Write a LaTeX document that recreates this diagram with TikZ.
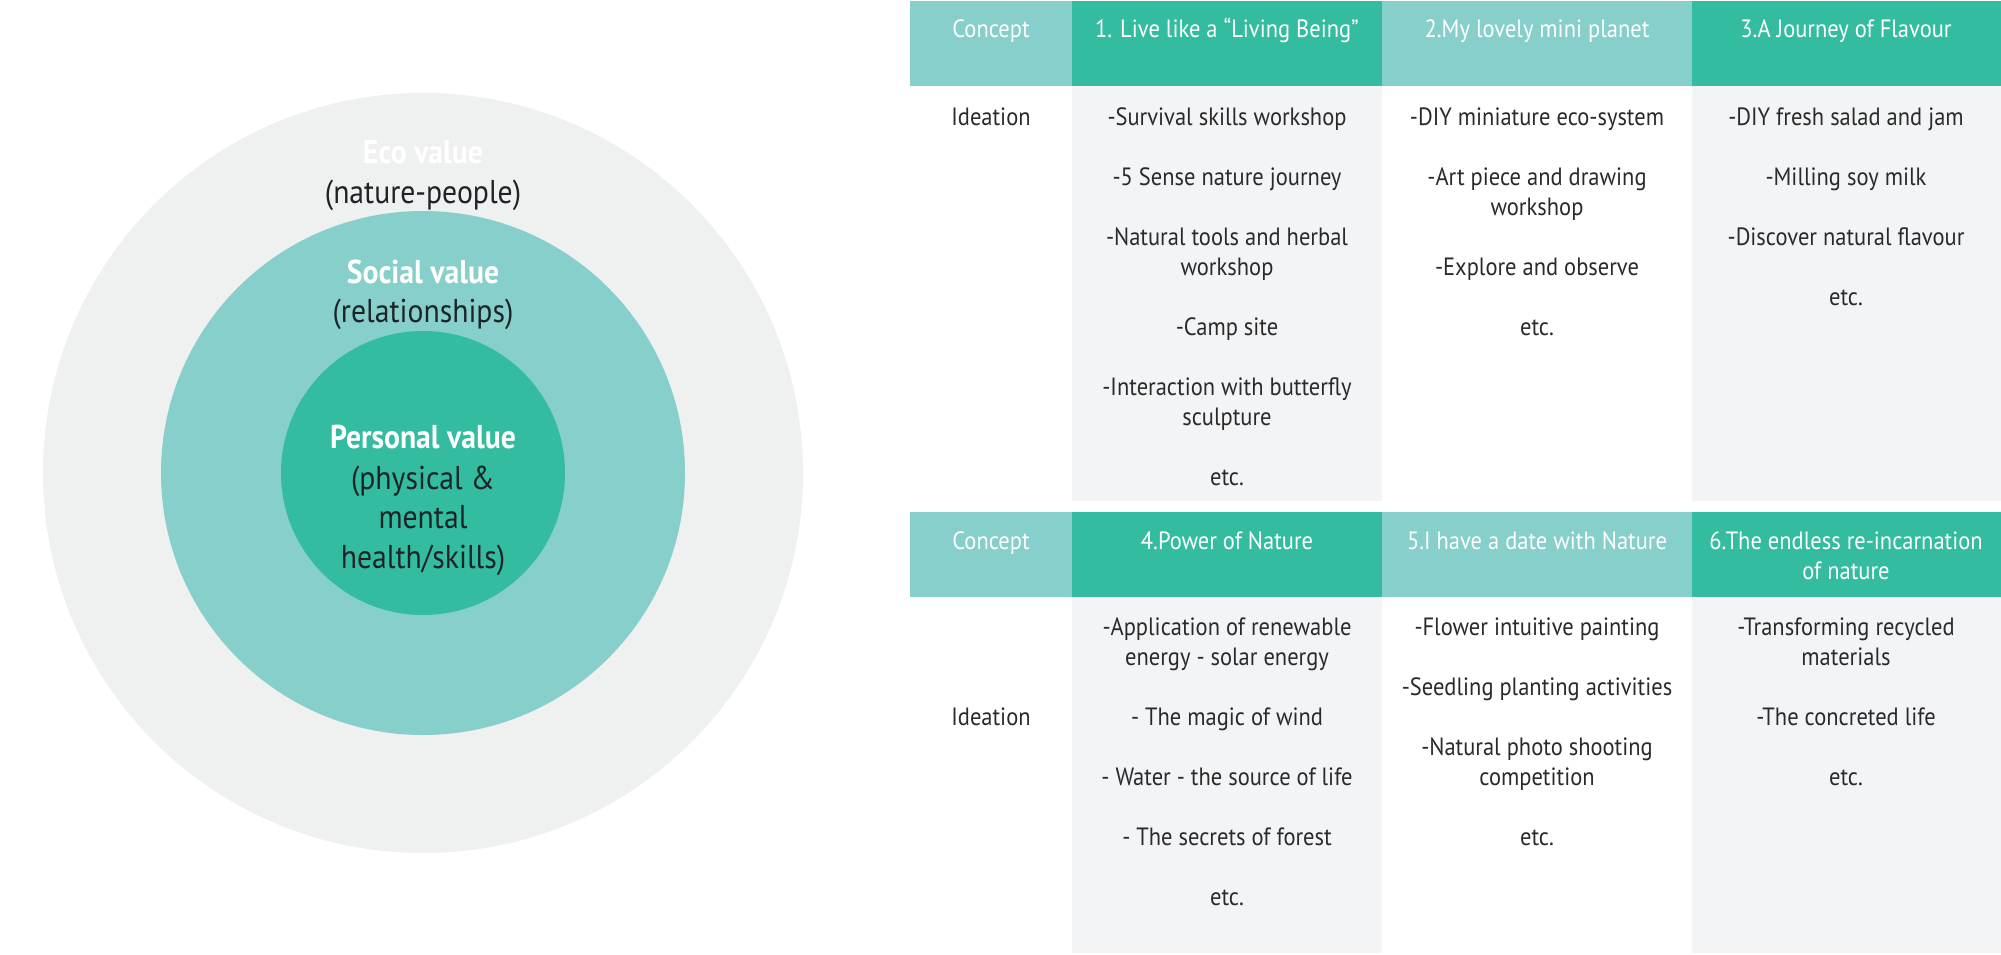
\documentclass[tikz,border=0pt]{standalone}
\usepackage{fontspec}
\setmainfont[FakeStretch=0.9]{PT Sans}
\definecolor{outerc}{HTML}{EFF0F0}
\definecolor{lightteal}{HTML}{86CFCB}
\definecolor{darkteal}{HTML}{33BC9F}
\definecolor{cellgray}{HTML}{F3F4F6}
\definecolor{txtdark}{HTML}{2A2A2A}
\definecolor{circtxt}{HTML}{1C2427}
\begin{document}
\begin{tikzpicture}[x=1pt,y=-1pt,
  tx/.style={anchor=base,inner sep=0pt,text=txtdark,font=\fontsize{25}{29}\selectfont},
  hd/.style={anchor=base,inner sep=0pt,text=white,font=\fontsize{25}{29}\selectfont},
  ctx/.style={anchor=base,inner sep=0pt,text=circtxt,font=\fontsize{33}{38}\selectfont},
  cbold/.style={anchor=base,inner sep=0pt,text=white,font=\fontsize{33}{38}\selectfont\bfseries},
  lightcell/.style={fill=lightteal,draw=none},
  darkcell/.style={fill=darkteal,draw=none},
  graycell/.style={fill=cellgray,draw=none}]
\useasboundingbox (0,0) rectangle (2001,955);
\fill[white] (0,0) rectangle (2001,955);
% circles
\fill[outerc] (423,473) circle[radius=380];
\fill[lightteal] (423,473) circle[radius=262];
\fill[darkteal] (423,473) circle[radius=142];
\node[cbold] (eco) at (423,163) {Eco value};
\node[ctx] (ecos) at (423,203) {(nature-people)};
\node[cbold] (soc) at (423,283) {Social value};
\node[ctx] (socs) at (423,322) {(relationships)};
\node[cbold] (per) at (423,448) {Personal value};
\node[ctx] (per1) at (423,489) {(physical \&};
\node[ctx] (per2) at (423,528) {mental};
\node[ctx] (per3) at (423,568) {health/skills)};
% table 1
\fill[lightcell] (910,1) rectangle (1072,86);
\fill[darkcell] (1072,1) rectangle (1382,86);
\fill[lightcell] (1382,1) rectangle (1692,86);
\fill[darkcell] (1692,1) rectangle (2001,86);
\fill[graycell] (1072,86) rectangle (1382,501);
\fill[graycell] (1692,86) rectangle (2001,501);
% table 2
\fill[lightcell] (910,512) rectangle (1072,597);
\fill[darkcell] (1072,512) rectangle (1382,597);
\fill[lightcell] (1382,512) rectangle (1692,597);
\fill[darkcell] (1692,512) rectangle (2001,597);
\fill[graycell] (1072,597) rectangle (1382,953);
\fill[graycell] (1692,597) rectangle (2001,953);
% header 1
\node[hd] (h0) at (991,38) {Concept};
\node[hd] (h1) at (1227,38) {1. Live like a “Living Being”};
\node[hd] (h2) at (1537,38) {2.My lovely mini planet};
\node[hd] (h3) at (1846,38) {3.A Journey of Flavour};
% body 1
\node[tx] (i1) at (991,125) {Ideation};
\node[tx] (a1) at (1227,125) {-Survival skills workshop};
\node[tx] (a2) at (1227,185) {-5 Sense nature journey};
\node[tx] (a3) at (1227,245) {-Natural tools and herbal};
\node[tx] (a3b) at (1227,275) {workshop};
\node[tx] (a4) at (1227,335) {-Camp site};
\node[tx] (a5) at (1227,395) {-Interaction with butterfly};
\node[tx] (a5b) at (1227,425) {sculpture};
\node[tx] (a6) at (1227,485) {etc.};
\node[tx] (b1) at (1537,125) {-DIY miniature eco-system};
\node[tx] (b2) at (1537,185) {-Art piece and drawing};
\node[tx] (b2b) at (1537,215) {workshop};
\node[tx] (b3) at (1537,275) {-Explore and observe};
\node[tx] (b4) at (1537,335) {etc.};
\node[tx] (c1) at (1846,125) {-DIY fresh salad and jam};
\node[tx] (c2) at (1846,185) {-Milling soy milk};
\node[tx] (c3) at (1846,245) {-Discover natural flavour};
\node[tx] (c4) at (1846,305) {etc.};
% header 2
\node[hd] (g0) at (991,549) {Concept};
\node[hd] (g1) at (1227,549) {4.Power of Nature};
\node[hd] (g2) at (1537,549) {5.I have a date with Nature};
\node[hd] (g3) at (1846,549) {6.The endless re-incarnation};
\node[hd] (g3b) at (1846,579) {of nature};
% body 2
\node[tx] (i2) at (991,725) {Ideation};
\node[tx] (d1) at (1227,635) {-Application of renewable};
\node[tx] (d1b) at (1227,665) {energy - solar energy};
\node[tx] (d2) at (1227,725) {- The magic of wind};
\node[tx] (d3) at (1227,785) {- Water - the source of life};
\node[tx] (d4) at (1227,845) {- The secrets of forest};
\node[tx] (d5) at (1227,905) {etc.};
\node[tx] (e1) at (1537,635) {-Flower intuitive painting};
\node[tx] (e2) at (1537,695) {-Seedling planting activities};
\node[tx] (e3) at (1537,755) {-Natural photo shooting};
\node[tx] (e3b) at (1537,785) {competition};
\node[tx] (e4) at (1537,845) {etc.};
\node[tx] (f1) at (1846,635) {-Transforming recycled};
\node[tx] (f1b) at (1846,665) {materials};
\node[tx] (f2) at (1846,725) {-The concreted life};
\node[tx] (f3) at (1846,785) {etc.};
\end{tikzpicture}
\end{document}
